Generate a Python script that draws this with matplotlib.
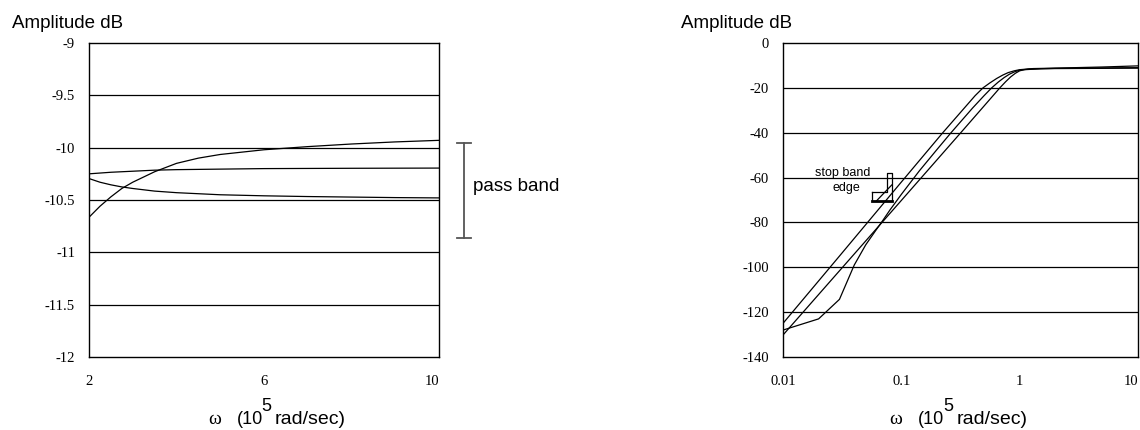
import matplotlib
matplotlib.use("Agg")
import matplotlib.pyplot as plt
import numpy as np

# ---------------- data ----------------
# Left panel: pass-band detail (x in 1e5 rad/sec, y in dB)
pb_ticks_x = [2, 6, 10]
pb_ticks_y = [-9, -9.5, -10, -10.5, -11, -11.5, -12]
pb_tick_labels_y = ["-9", "-9.5", "-10", "-10.5", "-11", "-11.5", "-12"]

curveA_x = [2, 2.25, 2.5, 2.75, 3, 3.5, 4, 4.5, 5, 6, 7, 8, 9, 10]
curveA_y = [-10.665, -10.56, -10.47, -10.39, -10.33, -10.23, -10.15, -10.10,
            -10.065, -10.02, -9.99, -9.965, -9.945, -9.93]
curveB_x = [2, 2.5, 3, 3.5, 4, 5, 6, 8, 10]
curveB_y = [-10.25, -10.235, -10.225, -10.215, -10.21, -10.205, -10.20, -10.197, -10.195]
curveC_x = [2, 2.25, 2.5, 2.75, 3, 3.5, 4, 5, 6, 7, 8, 9, 10]
curveC_y = [-10.295, -10.33, -10.355, -10.375, -10.39, -10.415, -10.43, -10.45,
            -10.46, -10.467, -10.472, -10.477, -10.48]

# Right panel: full response (log x)
full_ticks_x = [0.01, 0.1, 1, 10]
full_tick_labels_x = ["0.01", "0.1", "1", "10"]
full_ticks_y = [0, -20, -40, -60, -80, -100, -120, -140]

curveP_x = [0.01, 0.03, 0.1, 0.224, 0.42, 0.49, 0.56, 0.64, 0.72, 0.8, 0.9, 1.0,
            1.3, 2, 5, 10]
curveP_y = [-125, -95, -62, -40, -23.5, -20, -17.8, -15.8, -14.3, -13.2, -12.4, -11.9,
            -11.4, -11.2, -10.7, -10.2]
curveQ_x = [0.01, 0.1, 0.324, 0.6, 0.68, 0.76, 0.84, 0.92, 1.0, 1.1, 1.5, 2, 5, 10]
curveQ_y = [-130.2, -70.2, -39.5, -23.3, -20, -17.3, -15.1, -13.5, -12.4, -11.9,
            -11.5, -11.4, -11.3, -11.2]
curveR_x = [0.01, 0.02, 0.03, 0.04, 0.05, 0.06, 0.07, 0.08, 0.1, 0.142, 0.2, 0.263,
            0.4, 0.5, 0.58, 0.66, 0.74, 0.82, 0.9, 1.0, 1.2, 2, 5, 10]
curveR_y = [-128, -123, -114.3, -99, -90, -84, -79, -74.5, -67.5, -57, -47.5, -40,
            -29, -23.5, -20, -17.4, -15.4, -13.9, -12.9, -12.1, -11.6, -11.3, -11.1, -11.0]

# annotation geometry
passband_bar_x = 10.57
passband_cap = (10.41, 10.73)
passband_range = (-9.96, -10.86)
sb_x = (0.0562, 0.0753, 0.0830)
sb_y = (-57.8, -66.3, -70.3)

# ---------------- figure ----------------
W, H = 1140, 430
fig = plt.figure(figsize=(W / 100, H / 100), dpi=100)
SANS = "Liberation Sans"
SERIF = "Liberation Serif"


def px_axes(l, r, t, b):
    return fig.add_axes([l / W, 1 - b / H, (r - l) / W, (b - t) / H])


def style_axes(ax, grid_vals):
    for s in ax.spines.values():
        s.set_color("black")
        s.set_linewidth(1.0)
    ax.tick_params(length=0, labelsize=10.5)
    ax.tick_params(axis="y", pad=10)
    ax.tick_params(axis="x", pad=13)
    for lab in ax.get_xticklabels() + ax.get_yticklabels():
        lab.set_fontfamily(SERIF)
    # last x label right-aligned so it stays inside the figure
    ax.get_xticklabels()[-1].set_horizontalalignment("right")
    for g in grid_vals:
        ax.axhline(g, color="black", lw=0.9, zorder=1)


# Left axes
ax1 = px_axes(89, 439, 43, 357)
ax1.set_xlim(2, 10)
ax1.set_ylim(-12, -9)
ax1.set_xticks(pb_ticks_x)
ax1.set_xticklabels([str(v) for v in pb_ticks_x])
ax1.set_yticks(pb_ticks_y)
ax1.set_yticklabels(pb_tick_labels_y)
style_axes(ax1, [-9.5, -10, -10.5, -11, -11.5])
for xs, ys in [(curveA_x, curveA_y), (curveB_x, curveB_y), (curveC_x, curveC_y)]:
    ax1.plot(xs, ys, color="black", lw=0.9, zorder=3)

# pass band bar
bar_kw = dict(color="#555555", lw=1.3, clip_on=False)
ax1.plot([passband_bar_x, passband_bar_x], passband_range, **bar_kw)
for yv in passband_range:
    ax1.plot(passband_cap, [yv, yv], **bar_kw)
ax1.text(10.78, np.mean(passband_range) + 0.04, "pass band", fontsize=13.5,
         family=SANS, va="center", ha="left", clip_on=False)

# Right axes
ax2 = px_axes(783, 1138, 43, 357)
ax2.set_xscale("log")
ax2.set_xlim(0.01, 10)
ax2.set_ylim(-140, 0)
ax2.set_xticks(full_ticks_x)
ax2.set_xticklabels(full_tick_labels_x)
ax2.minorticks_off()
ax2.set_yticks(full_ticks_y)
ax2.set_yticklabels([str(v) for v in full_ticks_y])
style_axes(ax2, [-20, -40, -60, -80, -100, -120])
for xs, ys in [(curveP_x, curveP_y), (curveQ_x, curveQ_y), (curveR_x, curveR_y)]:
    ax2.plot(xs, ys, color="black", lw=0.9, zorder=3)

# stop band edge marker
x0, x1, x2 = sb_x
y0, y1, y2 = sb_y
ax2.plot([x0, x1, x1, x2, x2, x0, x0], [y1, y1, y0, y0, y2, y2, y1],
         color="black", lw=0.9, zorder=4)
ax2.plot([x0, x2], [y2, y2], color="black", lw=2.0, zorder=4)
ax2.plot([0.0619, x2], [y2, -63.3], color="black", lw=0.9, zorder=4)
ax2.text(0.032, -57.8, "stop band", fontsize=9, family=SANS, ha="center", va="center")
ax2.text(0.0345, -64.8, "edge", fontsize=9, family=SANS, ha="center", va="center")


# titles and x labels in pixel positions
def ftext(x, y, s, **kw):
    fig.text(x / W, 1 - y / H, s, **kw)


for left in (11.7, 680.7):
    ftext(left, 28, "Amplitude dB", fontsize=13.5, family=SANS, ha="left", va="baseline")

for wx, p10, p5, prad in [(215, 237, 261, 275), (896, 918, 943, 957)]:
    ftext(wx, 424, "ω", fontsize=14, family=SERIF, ha="center", va="baseline")
    ftext(p10, 424, "(10", fontsize=13, family=SANS, ha="left", va="baseline")
    ftext(p5, 411, "5", fontsize=13, family=SANS, ha="left", va="baseline")
    ftext(prad, 424, "rad/sec)", fontsize=14, family=SANS, ha="left", va="baseline")

fig.savefig("out.png", dpi=100, facecolor="white")
